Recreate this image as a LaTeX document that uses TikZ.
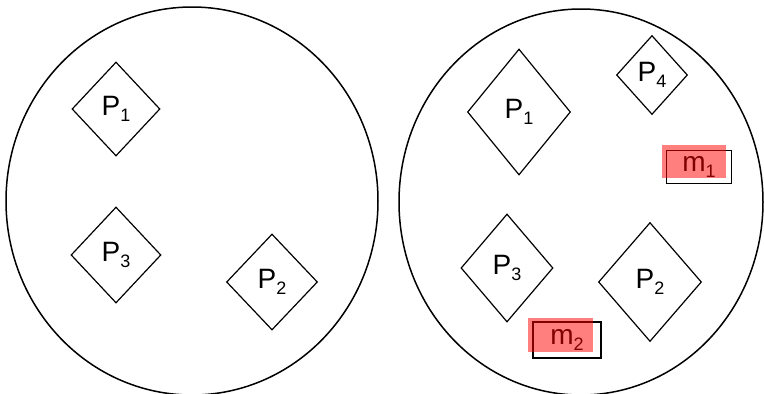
\documentclass[tikz,border=0pt]{standalone}
\usepackage{fontspec}
\setmainfont{Liberation Sans}
\usetikzlibrary{shapes.geometric}

% lowered index after a letter
\newcommand{\idx}[1]{\raisebox{-5.5pt}{\fontsize{18}{18}\selectfont #1}}

\begin{document}
\begin{tikzpicture}[x=1pt, y=-1pt,
    set/.style={draw, ellipse, line width=1.5pt, inner sep=0pt},
    proc/.style={draw, diamond, line width=1.2pt, inner sep=0pt, font=\fontsize{28}{30}\selectfont},
    msgbox/.style={draw, line width=1.2pt, inner sep=0pt, font=\fontsize{28}{30}\selectfont},
    hilite/.style={fill=red, fill opacity=0.5}]
    \useasboundingbox (0,0) rectangle (764,394);

    \node[set, minimum width=372pt, minimum height=388pt] (before) at (192,201) {};
    \node[set, minimum width=364pt, minimum height=386pt] (after) at (581,202) {};

    \node[proc, minimum width=88pt, minimum height=94pt] (bp1) at (116,109) {P\idx{1}};
    \node[proc, minimum width=90pt, minimum height=96pt] (bp3) at (116,255) {P\idx{3}};
    \node[proc, minimum width=91pt, minimum height=96pt] (bp2) at (272,282) {P\idx{2}};

    \node[proc, minimum width=103pt, minimum height=126pt] (ap1) at (519,112) {P\idx{1}};
    \node[proc, minimum width=71pt, minimum height=79pt] (ap4) at (652,75) {P\idx{4}};
    \node[proc, minimum width=92pt, minimum height=108pt] (ap3) at (507,268) {P\idx{3}};
    \node[proc, minimum width=103pt, minimum height=119pt] (ap2) at (650,282) {P\idx{2}};

    \node[msgbox, minimum width=65pt, minimum height=33pt] (m1) at (699,167) {m\idx{1}};
    \node[msgbox, minimum width=68pt, minimum height=36pt] (m2) at (567,340) {m\idx{2}};

    \fill[hilite] ([shift={(-4,-5)}]m1.north west) rectangle ([shift={(-6,-6)}]m1.south east);
    \fill[hilite] ([shift={(-4,-3)}]m2.north west) rectangle ([shift={(-9,-7)}]m2.south east);
\end{tikzpicture}
\end{document}
